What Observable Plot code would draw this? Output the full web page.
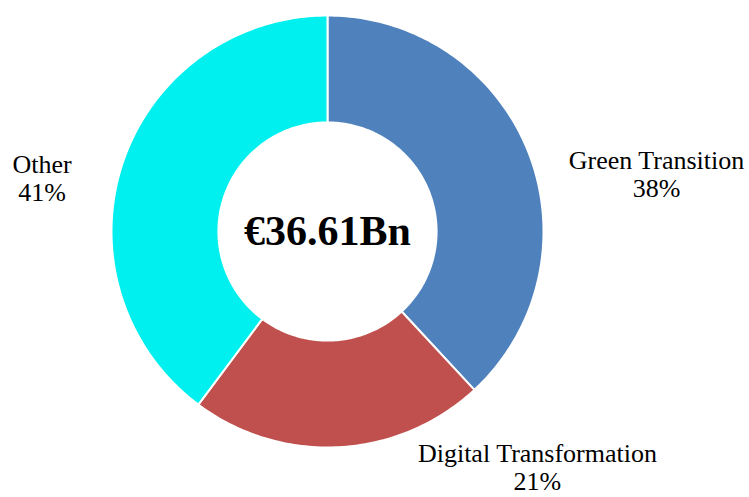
<!DOCTYPE html>
<html>
<head>
<meta charset="utf-8">
<script src="https://cdn.jsdelivr.net/npm/d3@7"></script>
<script src="https://cdn.jsdelivr.net/npm/@observablehq/plot@0.6"></script>
<style>
  html, body { margin: 0; padding: 0; background: #fff; }
  #chart svg { display: block; }
</style>
</head>
<body>
<div id="chart"></div>
<script>
const categories = ["Green Transition", "Digital Transformation", "Other"];
// slice sizes as drawn in the reference (percent)
const sliceValues = [38.1, 22.1, 39.8];
// percentage labels as printed in the reference
const percentLabels = ["38%", "21%", "41%"];
const colors = ["#4F81BD", "#C0504D", "#00EFEF"];
const totalLabel = "€36.61Bn";
// label anchor positions in unit-circle coordinates (y down)
const labelPos = [[1.523, -0.268], [0.972, 1.092], [-1.321, -0.249]];

const R = 1, r0 = 0.505;
const pie = d3.pie().sort(null).value(d => d.value);
const arcs = pie(categories.map((c, i) => ({category: c, value: sliceValues[i], color: colors[i]})));

function ringPolygon(a0, a1) {
  const n = Math.max(8, Math.ceil((a1 - a0) / (Math.PI / 180)));
  const outer = [], inner = [];
  for (let k = 0; k <= n; k++) {
    const a = a0 + (a1 - a0) * k / n;
    outer.push([Math.sin(a) * R, -Math.cos(a) * R]);
    inner.push([Math.sin(a) * r0, -Math.cos(a) * r0]);
  }
  const ring = outer.concat(inner.reverse());
  ring.push(ring[0]);
  return ring;
}

const features = arcs.map(a => ({
  type: "Feature",
  properties: {category: a.data.category, color: a.data.color},
  geometry: {type: "Polygon", coordinates: [ringPolygon(a.startAngle, a.endAngle)]}
}));

const domain = {type: "Polygon", coordinates: [[[-1, -1], [1, -1], [1, 1], [-1, 1], [-1, -1]]]};

const labelData = categories.map((c, i) => ({text: c + "\n" + percentLabels[i], x: labelPos[i][0], y: labelPos[i][1]}));

const plot = Plot.plot({
  width: 749,
  height: 497,
  marginLeft: 111,
  marginRight: 206,
  marginTop: 15,
  marginBottom: 50,
  style: {fontFamily: "'Liberation Serif', 'Times New Roman', serif", background: "#fff"},
  projection: {type: "identity", domain, clip: false},
  marks: [
    Plot.geo(features, {fill: d => d.properties.color, stroke: "#fff", strokeWidth: 2}),
    Plot.text(labelData, {x: "x", y: "y", text: "text", fontSize: 26, lineHeight: 1.08, fill: "#000", clip: false}),
    Plot.text([totalLabel], {x: 0, y: 0, text: d => d, fontSize: 42, fontWeight: "bold", fill: "#000"})
  ]
});
document.getElementById("chart").appendChild(plot);
</script>
</body>
</html>
